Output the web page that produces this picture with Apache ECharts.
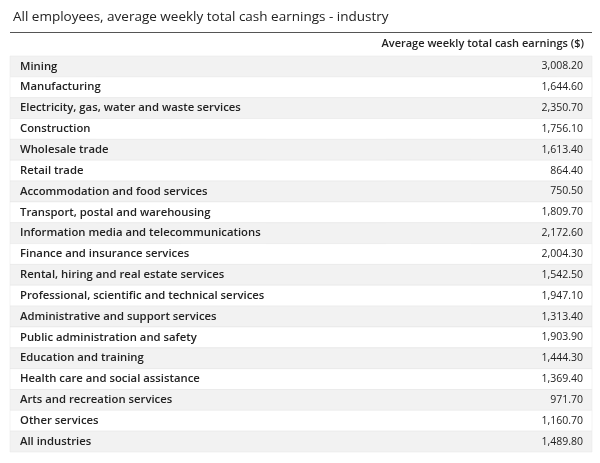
<!DOCTYPE html>
<html>
<head>
<meta charset="utf-8">
<script src="https://cdn.jsdelivr.net/npm/echarts@6/dist/echarts.min.js"></script>
<style>html,body{margin:0;padding:0;background:#fff}#chart{width:600px;height:463px}</style>
</head>
<body>
<div id="chart"></div>
<script>
const industries = [
  'Mining', 'Manufacturing', 'Electricity, gas, water and waste services', 'Construction',
  'Wholesale trade', 'Retail trade', 'Accommodation and food services',
  'Transport, postal and warehousing', 'Information media and telecommunications',
  'Finance and insurance services', 'Rental, hiring and real estate services',
  'Professional, scientific and technical services', 'Administrative and support services',
  'Public administration and safety', 'Education and training', 'Health care and social assistance',
  'Arts and recreation services', 'Other services', 'All industries'
];
const earnings = [3008.2, 1644.6, 2350.7, 1756.1, 1613.4, 864.4, 750.5, 1809.7, 2172.6, 2004.3,
  1542.5, 1947.1, 1313.4, 1903.9, 1444.3, 1369.4, 971.7, 1160.7, 1489.8];
const columnHeader = 'Average weekly total cash earnings ($)';

const fmt = (v) => v.toLocaleString('en-US', { minimumFractionDigits: 2, maximumFractionDigits: 2 });
const font = '"Open Sans", sans-serif';

const chart = echarts.init(document.getElementById('chart'));
chart.setOption({
  animation: false,
  title: {
    text: 'All employees, average weekly total cash earnings - industry',
    left: 8, top: 5,
    textStyle: { fontFamily: font, fontSize: 13.5, fontWeight: 'normal', color: '#222' }
  },
  grid: { left: 10, right: 8, top: 56, height: 396 },
  xAxis: { type: 'value', min: 0, max: 1, show: false },
  yAxis: { type: 'category', data: industries, inverse: true, show: false },
  graphic: [
    { type: 'rect', shape: { x: 10, y: 32, width: 582, height: 1 }, style: { fill: '#555' } },
    { type: 'rect', shape: { x: 10, y: 56, width: 582, height: 1 }, style: { fill: '#555' } },
    { type: 'text', right: 16, top: 38,
      style: { text: columnHeader, font: '600 11px ' + font, fill: '#222' } }
  ],
  series: [{
    type: 'custom',
    data: industries.map((n, i) => [i, n, earnings[i]]),
    encode: { y: 0 },
    renderItem: (params, api) => {
      const cs = params.coordSys;
      const i = api.value(0);
      const cy = api.coord([0, i])[1];
      const h = api.size([0, 1])[1];
      return {
        type: 'group',
        children: [
          { type: 'rect', shape: { x: cs.x, y: cy - h / 2, width: cs.width, height: h },
            style: { fill: i % 2 === 0 ? '#f2f2f2' : '#fff', stroke: '#e4e4e4', lineWidth: 0.5 } },
          { type: 'text', style: { text: industries[i], x: cs.x + 10, y: cy, verticalAlign: 'middle',
            font: '600 11.3px ' + font, fill: '#222' } },
          { type: 'text', style: { text: fmt(earnings[i]), x: cs.x + cs.width - 9, y: cy,
            align: 'right', verticalAlign: 'middle', font: '10.5px ' + font, fill: '#222' } }
        ]
      };
    }
  }]
});
</script>
</body>
</html>
